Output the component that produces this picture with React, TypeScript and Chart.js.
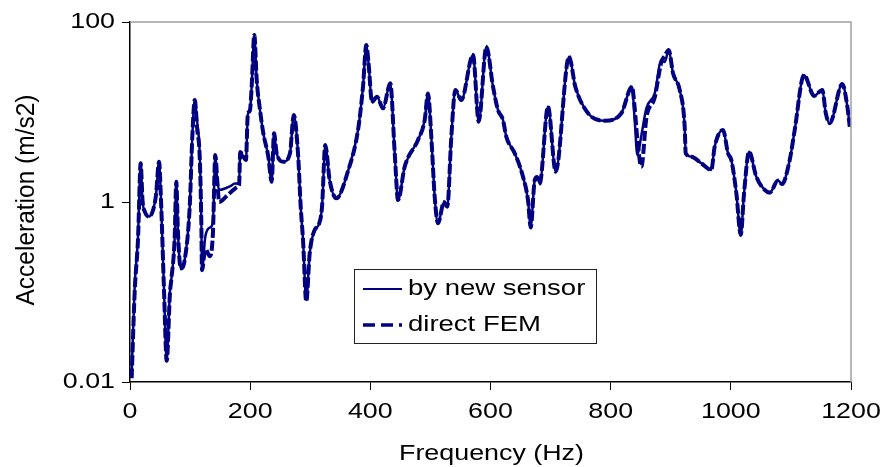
import React, { useEffect, useRef } from "react";
import { Chart, registerables } from "chart.js";

Chart.register(...registerables);

const FREQ_HZ = [
  2.8, 7.8, 13.3, 17.8, 20.8, 25, 32.1, 38.3, 43.3, 48.3,
  51.6, 56.6, 61.1, 66.6, 68.7, 74.4, 77, 79.9, 84.4, 91,
  99.4, 103.7, 107.7, 112, 116, 118.7, 119.8, 125.3, 133, 138,
  142, 145.3, 148.5, 160, 168.6, 174.3, 180, 181.5, 183.5, 193,
  196, 199.7, 202.5, 206.9, 210.9, 216.4, 221.9, 230.2, 235.8, 239.7,
  244.1, 255.2, 266.3, 272.5, 279.6, 284.1, 288, 293.4, 299.1, 307.4,
  314, 319.6, 325, 332.3, 343.4, 362.8, 379.5, 387.8, 393.3, 397,
  402.8, 411.1, 421.1, 433.2, 440.6, 446.1, 457.2, 479.3, 490.5, 496,
  501.5, 507.1, 512.6, 522.6, 528.1, 534.8, 541.4, 551.4, 570.9, 580.4,
  593.1, 604.2, 612.5, 620.8, 626.3, 640.3, 654.1, 662.4, 666.9, 673.6,
  677.5, 681.9, 695.7, 708.5, 730.7, 741.2, 762.3, 790, 817.8, 835.5,
  840, 844.4, 851.1, 859.4, 873.3, 884.4, 890, 896.6, 903.8, 914.9,
  923.2, 924.9, 934.3, 951, 967.5, 973.1, 987, 995.3, 1000.8, 1009.2,
  1016.5, 1022, 1030.3, 1042.4, 1056.3, 1064.7, 1078.5, 1085.2, 1098, 1106.3,
  1121.8, 1138.5, 1152.3, 1158, 1164.6, 1185.5, 1193.9, 1197.9,
];

const SENSOR_ACC = [
  0.0126, 0.115, 0.41, 2.69, 1.05, 0.77, 0.69, 0.81, 1.2, 2.8,
  1.05, 0.105, 0.0176, 0.105, 0.136, 0.41, 1.68, 0.45, 0.183, 0.227,
  0.887, 5.3, 13.6, 7.5, 3.48, 0.63, 0.175, 0.41, 0.52, 0.6,
  3.33, 1.75, 1.36, 1.43, 1.52, 1.61, 1.6, 1.62, 3.6, 2.93,
  9.26, 10.5, 19.1, 71.7, 22.7, 10.5, 5.8, 3.19, 1.68, 5.8,
  3.48, 2.8, 3.48, 9.26, 3.5, 0.887, 0.378, 0.0815, 0.269, 0.49,
  0.556, 0.887, 4.3, 1.75, 1.1, 2.2, 6.3, 19.1, 55.5, 35,
  12.9, 14.8, 11, 20.8, 3.48, 1.05, 2.47, 4.89, 8.15, 16.1,
  5.3, 1.15, 0.58, 1.0, 0.887, 5.3, 17.6, 13.6, 43, 7.8,
  53.2, 19.1, 10.5, 8.15, 5.3, 3.48, 1.91, 1.05, 0.53, 1.75,
  1.9, 1.61, 11.5, 2.17, 41.2, 19.1, 9.7, 8.0, 9.7, 19.1,
  8.15, 3.33, 5.5, 11, 16.1, 37.8, 36, 48.9, 26.9, 17.6,
  6.87, 3.48, 3.19, 2.69, 2.27, 4.12, 6.3, 3.48, 2.93, 1.25,
  0.43, 1.25, 3.62, 1.91, 1.36, 1.27, 1.73, 1.58, 2.93, 6.3,
  25.8, 15.1, 17.6, 9.7, 7.49, 20.5, 11.5, 6.87,
];

const FEM_ACC = [
  0.011, 0.1, 0.38, 2.69, 1.05, 0.77, 0.69, 0.81, 1.2, 2.8,
  1.05, 0.105, 0.0172, 0.1, 0.136, 0.41, 1.68, 0.45, 0.183, 0.227,
  0.887, 5.3, 13.6, 6.3, 3.2, 0.6, 0.175, 0.3, 0.25, 0.45,
  3.33, 1.7, 1.0, 1.15, 1.3, 1.4, 1.48, 1.52, 3.6, 2.93,
  9.26, 10.5, 19.1, 71.7, 22.7, 10.5, 5.8, 3.19, 1.68, 5.8,
  3.48, 2.8, 3.48, 9.26, 3.5, 0.887, 0.378, 0.078, 0.269, 0.49,
  0.556, 0.887, 4.3, 1.75, 1.1, 2.2, 6.3, 19.1, 55.5, 35,
  12.9, 14.8, 11, 20.8, 3.48, 1.05, 2.47, 4.89, 8.15, 16.1,
  5.3, 1.15, 0.58, 1.0, 0.887, 5.3, 17.6, 13.6, 43, 7.8,
  53.2, 19.1, 10.5, 8.15, 5.3, 3.48, 1.91, 1.05, 0.52, 1.75,
  1.9, 1.61, 11.5, 2.17, 41.2, 19.1, 9.7, 8.0, 9.7, 19.1,
  11, 5.0, 2.47, 8.5, 14.5, 36, 42, 48.9, 26.9, 17.6,
  6.87, 3.48, 3.19, 2.69, 2.27, 4.12, 6.3, 3.48, 2.93, 1.25,
  0.43, 1.25, 3.62, 1.91, 1.36, 1.27, 1.73, 1.58, 2.93, 6.3,
  25.8, 15.1, 17.6, 9.7, 7.49, 20.5, 11.5, 6.87,
];

const X_TICKS = [0, 200, 400, 600, 800, 1000, 1200];
const Y_TICKS = [0.01, 1, 100];
const Y_TICK_LABELS = ["0.01", "1", "100"];
const SERIES_LABELS = ["by new sensor", "direct FEM"];
const X_TITLE = "Frequency (Hz)";
const Y_TITLE = "Acceleration (m/s2)";

const NAVY = "#000080";
const FONT = "'Liberation Sans', Arial, Helvetica, sans-serif";

function drawText(
  ctx: CanvasRenderingContext2D,
  text: string,
  x: number,
  y: number,
  align: CanvasTextAlign,
  size: number,
  sx: number,
  rotate = false
) {
  ctx.save();
  ctx.translate(x, y);
  ctx.scale(sx, 1);
  if (rotate) ctx.rotate(-Math.PI / 2);
  ctx.font = `${size}px ${FONT}`;
  ctx.textAlign = align;
  ctx.textBaseline = "middle";
  ctx.fillStyle = "#000";
  ctx.fillText(text, 0, 0);
  ctx.restore();
}

export default function App() {
  const ref = useRef<HTMLCanvasElement>(null);

  useEffect(() => {
    const canvas = ref.current;
    if (!canvas) return;

    const textPlugin = {
      id: "stretchedText",
      afterDraw(chart: any) {
        const { ctx, chartArea, scales } = chart;
        const xs = scales.x;
        const ys = scales.y;
        ctx.save();
        ctx.strokeStyle = "#a0a0a0";
        ctx.lineWidth = 1.5;
        ctx.beginPath();
        ctx.moveTo(chartArea.left, chartArea.top);
        ctx.lineTo(chartArea.right, chartArea.top);
        ctx.lineTo(chartArea.right, chartArea.bottom);
        ctx.stroke();
        ctx.restore();

        Y_TICKS.forEach((v, i) => {
          drawText(ctx, Y_TICK_LABELS[i], chartArea.left - 15, ys.getPixelForValue(v), "right", 22, 1.22);
        });
        X_TICKS.forEach((v) => {
          drawText(ctx, String(v), xs.getPixelForValue(v), chartArea.bottom + 30, "center", 22, 1.22);
        });
        drawText(ctx, X_TITLE, (chartArea.left + chartArea.right) / 2 + 1, chartArea.bottom + 72, "center", 22, 1.22);
        drawText(ctx, Y_TITLE, 27, (chartArea.top + chartArea.bottom) / 2 - 2, "center", 24.5, 1.05, true);

        const lx = 354.5, ly = 269.5, lw = 242, lh = 74;
        ctx.save();
        ctx.fillStyle = "#fff";
        ctx.fillRect(lx, ly, lw, lh);
        ctx.strokeStyle = "#222";
        ctx.lineWidth = 1;
        ctx.strokeRect(lx, ly, lw, lh);
        const rows = [289, 325];
        chart.data.datasets.forEach((ds: any, i: number) => {
          ctx.save();
          ctx.strokeStyle = ds.borderColor;
          ctx.lineWidth = i === 0 ? 2 : 3.5;
          ctx.setLineDash(i === 0 ? [] : [12, 6]);
          ctx.beginPath();
          ctx.moveTo(363, rows[i]);
          ctx.lineTo(402, rows[i]);
          ctx.stroke();
          ctx.restore();
          drawText(ctx, ds.label, 408, rows[i], "left", 22, 1.25);
        });
        ctx.restore();
      },
    };

    const chart = new Chart(canvas, {
      type: "line",
      data: {
        datasets: [
          {
            label: SERIES_LABELS[0],
            data: FREQ_HZ.map((f, i) => ({ x: f, y: SENSOR_ACC[i] })),
            borderColor: NAVY,
            backgroundColor: NAVY,
            borderWidth: 2.5,
            pointRadius: 0,
            cubicInterpolationMode: "monotone",
            order: 0,
          },
          {
            label: SERIES_LABELS[1],
            data: FREQ_HZ.map((f, i) => ({ x: f, y: FEM_ACC[i] })),
            borderColor: NAVY,
            backgroundColor: NAVY,
            borderWidth: 4,
            borderDash: [10, 3],
            pointRadius: 0,
            cubicInterpolationMode: "monotone",
            order: 1,
          },
        ],
      },
      options: {
        responsive: false,
        animation: false,
        layout: { padding: { top: 22, right: 30, left: 0, bottom: 0 } },
        plugins: { legend: { display: false }, tooltip: { enabled: false } },
        scales: {
          x: {
            type: "linear",
            min: 0,
            max: 1200,
            afterBuildTicks: (s: any) => {
              s.ticks = X_TICKS.map((v) => ({ value: v }));
            },
            afterFit: (s: any) => {
              s.height = 85;
            },
            ticks: { display: false },
            grid: { display: true, drawOnChartArea: false, drawTicks: true, tickLength: 8, color: "#000", lineWidth: 1 },
            border: { display: true, color: "#000", width: 1.5 },
          },
          y: {
            type: "logarithmic",
            min: 0.01,
            max: 100,
            afterBuildTicks: (s: any) => {
              s.ticks = Y_TICKS.map((v) => ({ value: v }));
            },
            afterFit: (s: any) => {
              s.width = 130;
            },
            ticks: { display: false },
            grid: { display: true, drawOnChartArea: false, drawTicks: true, tickLength: 8, color: "#000", lineWidth: 1 },
            border: { display: true, color: "#000", width: 1.5 },
          },
        },
      },
      plugins: [textPlugin],
    });

    return () => chart.destroy();
  }, []);

  return (
    <canvas
      ref={ref}
      width={881}
      height={467}
      style={{ position: "fixed", left: 0, top: 0, width: 881, height: 467, display: "block", background: "#fff" }}
    />
  );
}
